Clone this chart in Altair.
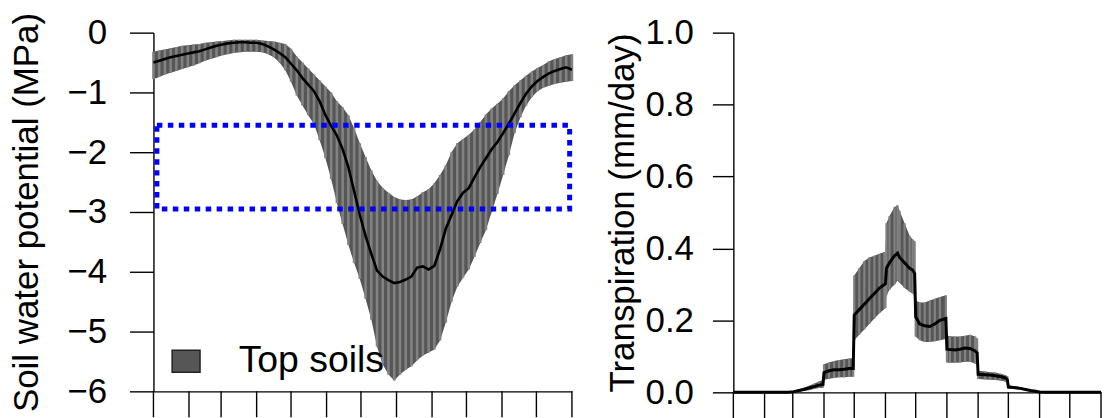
import altair as alt
import pandas as pd

FONT = "Liberation Sans"

# ---- Top-soil water potential (MPa), every 5 days of the year ----
soil_day = list(range(0, 366, 5))
soil_mid = [-0.50, -0.47, -0.44, -0.41, -0.39, -0.37, -0.35, -0.33, -0.31, -0.28,
            -0.25, -0.22, -0.20, -0.18, -0.17, -0.16, -0.16, -0.17, -0.17, -0.19,
            -0.23, -0.28, -0.34, -0.41, -0.52, -0.63, -0.76, -0.87, -0.98, -1.15,
            -1.38, -1.56, -1.72, -1.95, -2.25, -2.65, -3.05, -3.40, -3.70, -3.98,
            -4.08, -4.14, -4.19, -4.17, -4.13, -4.08, -3.93, -3.91, -3.96, -3.90,
            -3.62, -3.28, -3.05, -2.82, -2.68, -2.60, -2.42, -2.25, -2.10, -1.95,
            -1.83, -1.68, -1.52, -1.35, -1.18, -1.02, -0.90, -0.81, -0.74, -0.68,
            -0.64, -0.61, -0.58, -0.62]
soil_hi = [-0.32, -0.30, -0.28, -0.26, -0.24, -0.22, -0.21, -0.20, -0.19, -0.17,
           -0.16, -0.15, -0.14, -0.13, -0.12, -0.12, -0.12, -0.12, -0.12, -0.13,
           -0.14, -0.15, -0.17, -0.19, -0.27, -0.40, -0.50, -0.60, -0.70, -0.80,
           -0.90, -1.00, -1.15, -1.25, -1.38, -1.60, -1.85, -2.08, -2.30, -2.48,
           -2.60, -2.68, -2.75, -2.79, -2.80, -2.79, -2.74, -2.67, -2.62, -2.52,
           -2.38, -2.22, -2.00, -1.85, -1.78, -1.71, -1.62, -1.50, -1.37, -1.27,
           -1.19, -1.10, -0.98, -0.88, -0.80, -0.72, -0.65, -0.59, -0.54, -0.48,
           -0.44, -0.41, -0.38, -0.36]
soil_lo = [-0.78, -0.74, -0.70, -0.67, -0.64, -0.61, -0.58, -0.55, -0.51, -0.47,
           -0.44, -0.41, -0.38, -0.36, -0.34, -0.33, -0.32, -0.32, -0.32, -0.33,
           -0.36, -0.41, -0.50, -0.63, -0.82, -1.05, -1.22, -1.38, -1.53, -1.80,
           -2.10, -2.45, -2.85, -3.20, -3.55, -3.85, -4.12, -4.45, -4.80, -5.25,
           -5.55, -5.72, -5.82, -5.72, -5.64, -5.58, -5.48, -5.40, -5.35, -5.30,
           -5.15, -4.85, -4.50, -4.25, -4.10, -3.96, -3.75, -3.52, -3.30, -3.00,
           -2.70, -2.38, -2.05, -1.68, -1.42, -1.22, -1.08, -0.98, -0.92, -0.89,
           -0.86, -0.84, -0.82, -0.81]

# ---- Transpiration (mm/day); paired days mark the monthly steps ----
tr_day = [0, 5, 10, 15, 20, 25, 30, 35, 40, 45, 50, 55,
          60, 65, 70, 75, 80, 85, 89,
          90, 95, 100, 105, 110, 115, 119,
          120, 125, 130, 135, 140, 145, 150, 151,
          152, 155, 160, 163, 165, 170, 175, 178, 180,
          181, 185, 190, 195, 200, 205, 211,
          212, 215, 220, 225, 230, 235, 240, 242,
          243, 250, 255, 260, 265, 270, 272,
          273, 280, 285, 290, 295, 300, 304,
          310, 315, 320, 325, 330, 335, 340, 345, 350, 355, 360, 365]
tr_mid = [0, 0, 0, 0, 0, 0, 0, 0, 0, 0, 0, 0,
          0.002, 0.005, 0.008, 0.012, 0.016, 0.020, 0.022,
          0.055, 0.060, 0.063, 0.063, 0.064, 0.066, 0.066,
          0.215, 0.230, 0.245, 0.260, 0.275, 0.290, 0.300, 0.302,
          0.345, 0.360, 0.380, 0.387, 0.375, 0.360, 0.345, 0.340, 0.330,
          0.210, 0.190, 0.185, 0.183, 0.190, 0.200, 0.205,
          0.120, 0.119, 0.118, 0.120, 0.123, 0.122, 0.115, 0.110,
          0.050, 0.049, 0.048, 0.046, 0.044, 0.040, 0.035,
          0.015, 0.013, 0.011, 0.008, 0.005, 0.003, 0.001,
          0, 0, 0, 0, 0, 0, 0, 0, 0, 0, 0, 0]
tr_hi = [0, 0, 0, 0, 0, 0, 0, 0, 0, 0, 0, 0,
         0.004, 0.008, 0.013, 0.018, 0.024, 0.030, 0.034,
         0.078, 0.083, 0.087, 0.090, 0.092, 0.094, 0.095,
         0.325, 0.345, 0.365, 0.375, 0.380, 0.385, 0.390, 0.390,
         0.470, 0.490, 0.515, 0.520, 0.505, 0.470, 0.435, 0.425, 0.420,
         0.255, 0.250, 0.250, 0.255, 0.260, 0.265, 0.270,
         0.158, 0.156, 0.155, 0.155, 0.157, 0.160, 0.155, 0.150,
         0.060, 0.058, 0.056, 0.055, 0.052, 0.048, 0.045,
         0.020, 0.017, 0.014, 0.011, 0.007, 0.004, 0.002,
         0, 0, 0, 0, 0, 0, 0, 0, 0, 0, 0, 0]
tr_lo = [0, 0, 0, 0, 0, 0, 0, 0, 0, 0, 0, 0,
         0.000, 0.002, 0.004, 0.006, 0.009, 0.012, 0.013,
         0.035, 0.038, 0.040, 0.042, 0.042, 0.043, 0.043,
         0.145, 0.160, 0.175, 0.190, 0.205, 0.220, 0.232, 0.235,
         0.270, 0.285, 0.300, 0.310, 0.305, 0.290, 0.280, 0.275, 0.270,
         0.155, 0.145, 0.140, 0.140, 0.142, 0.145, 0.148,
         0.083, 0.082, 0.082, 0.083, 0.085, 0.085, 0.080, 0.078,
         0.037, 0.036, 0.035, 0.034, 0.033, 0.030, 0.027,
         0.010, 0.009, 0.007, 0.005, 0.003, 0.001, 0.000,
         0, 0, 0, 0, 0, 0, 0, 0, 0, 0, 0, 0]

# month boundaries (day of year) used as x ticks
month_starts = [0, 31, 59, 90, 120, 151, 181, 212, 243, 273, 304, 334, 365]

# dotted box marking the potential range of interest
box_x = [3]
box_x2 = [363]
box_y = [-1.55]
box_y2 = [-2.95]

soil = pd.DataFrame({"day": soil_day, "mid": soil_mid, "hi": soil_hi,
                     "lo": soil_lo, "series": "Top soils"})
trans = pd.DataFrame({"day": tr_day, "mid": tr_mid, "hi": tr_hi, "lo": tr_lo})
box = pd.DataFrame({"x": box_x, "x2": box_x2, "y": box_y, "y2": box_y2})
months = pd.DataFrame({"day": month_starts})

BAND_DARK = "#565656"
BAND_LIGHT = "#828282"
TICK_LEN = 26


def month_axis():
    # only the axis line; the monthly ticks are drawn as a rule layer
    return alt.Axis(labels=False, ticks=False, title=None, grid=False,
                    domainColor="black", domainWidth=1.4)


def month_ticks(plot_height):
    return alt.Chart(months).mark_rule(color="black", strokeWidth=1.4).encode(
        x="day:Q", y=alt.value(plot_height), y2=alt.value(plot_height + TICK_LEN))


# ---------------- left panel: soil water potential ----------------
LH = 360
xl = alt.X("day:Q", scale=alt.Scale(domain=[0, 365], nice=False, zero=False),
           axis=month_axis())
yl_scale = alt.Scale(domain=[-6, 0], nice=False, zero=False)
yl_axis = alt.Axis(values=[0, -1, -2, -3, -4, -5, -6], format="d",
                   title="Soil water potential (MPa)", grid=False,
                   tickSize=24, labelPadding=23, labelFontSize=35,
                   titleFontSize=35, titlePadding=22,
                   domainColor="black", tickColor="black",
                   domainWidth=1.4, tickWidth=1.4)

left_band = alt.Chart(soil).mark_area(opacity=1).encode(
    x=xl,
    y=alt.Y("lo:Q", scale=yl_scale, axis=yl_axis),
    y2="hi:Q",
    color=alt.Color("series:N", scale=alt.Scale(range=[BAND_DARK]),
                    legend=alt.Legend(
                        title=None, orient="none", legendX=14, legendY=311,
                        padding=0, labelFont=FONT, labelFontSize=37.5,
                        labelColor="black", labelOffset=34,
                        symbolType="M-1,-0.79H1V0.79H-1Z", symbolSize=784,
                        symbolStrokeColor="#222222", symbolStrokeWidth=1.5,
                        symbolOpacity=1)),
)
left_stripes = alt.Chart(soil).mark_rule(color=BAND_LIGHT, strokeWidth=2.6).encode(
    x="day:Q", y="lo:Q", y2="hi:Q")
left_line = alt.Chart(soil).mark_line(color="black", strokeWidth=2.6).encode(
    x="day:Q", y="mid:Q")
left_box = alt.Chart(box).mark_rect(
    fillOpacity=0, stroke="#0000ff", strokeWidth=5, strokeDash=[5.5, 5.5]
).encode(x="x:Q", x2="x2:Q", y="y:Q", y2="y2:Q")

left = alt.layer(left_band, left_stripes, left_line, left_box,
                 month_ticks(LH)).properties(width=420, height=LH)

# ---------------- right panel: transpiration ----------------
RH = 361
xr = alt.X("day:Q", scale=alt.Scale(domain=[0, 365], nice=False, zero=False),
           axis=month_axis())
yr_scale = alt.Scale(domain=[0, 1], nice=False, zero=False)
yr_axis = alt.Axis(values=[0, 0.2, 0.4, 0.6, 0.8, 1.0], format=".1f",
                   title="Transpiration (mm/day)", grid=False,
                   tickSize=21, labelPadding=19, labelFontSize=35,
                   titleFontSize=35, titlePadding=5,
                   domainColor="black", tickColor="black",
                   domainWidth=1.4, tickWidth=1.4)

right_band = alt.Chart(trans).mark_area(color=BAND_DARK, opacity=1).encode(
    x=xr, y=alt.Y("lo:Q", scale=yr_scale, axis=yr_axis), y2="hi:Q")
right_stripes = alt.Chart(trans).mark_rule(color=BAND_LIGHT, strokeWidth=2.2).encode(
    x="day:Q", y="lo:Q", y2="hi:Q")
right_line = alt.Chart(trans).mark_line(color="black", strokeWidth=3).encode(
    x="day:Q", y="mid:Q")

right = alt.layer(right_band, right_stripes, right_line,
                  month_ticks(RH)).properties(width=369, height=RH)

chart = alt.hconcat(left, right, spacing=162, bounds="flush").properties(
    padding={"left": 10, "top": 11, "right": 0, "bottom": 0}
).configure_view(stroke=None).configure_axis(
    labelFont=FONT, titleFont=FONT, labelColor="black", titleColor="black",
    titleFontWeight="normal"
).configure_legend(labelFont=FONT)

chart.save("out.html", embed_options={"renderer": "svg", "actions": False})
